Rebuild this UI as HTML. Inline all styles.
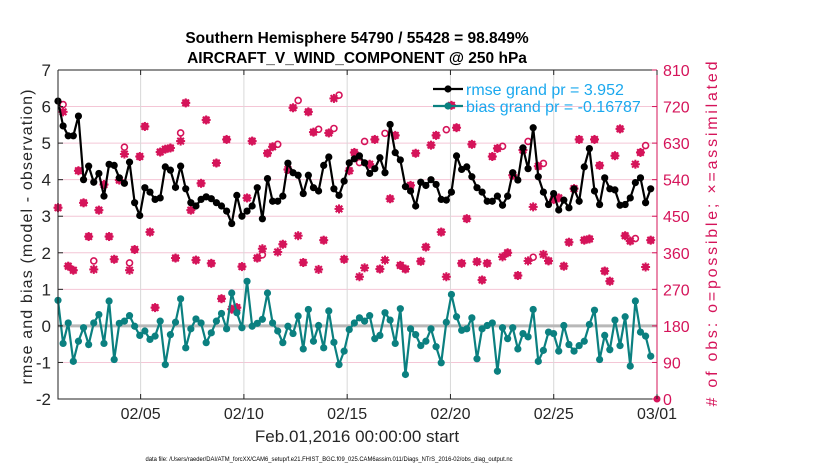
<!DOCTYPE html>
<html><head><meta charset="utf-8"><style>
body{margin:0;background:#fff;font-family:"Liberation Sans",sans-serif}
</style></head><body>
<svg id="chart" width="830" height="470" xmlns="http://www.w3.org/2000/svg" font-family="Liberation Sans, sans-serif"></svg>
<script>
const rmse=[6.15,5.47,5.2,5.2,5.74,4.0,4.37,3.93,4.17,3.55,4.42,4.39,4.05,3.9,4.48,3.37,3.02,3.78,3.66,3.46,3.5,4.35,4.26,3.79,4.37,3.75,3.37,3.28,3.46,3.53,3.48,3.37,3.28,3.14,2.8,3.57,3.0,3.14,3.28,
3.78,2.93,4.03,3.41,3.41,3.55,4.45,4.19,4.12,3.62,4.12,3.78,3.69,4.39,4.62,3.75,3.57,3.96,4.46,4.57,4.65,4.46,4.17,4.3,4.6,4.19,5.51,4.74,4.54,3.81,3.69,3.28,3.93,3.84,4.0,3.87,3.46,3.44,3.66,
4.65,4.28,4.35,4.08,3.78,3.66,3.41,3.41,3.55,3.3,3.55,4.19,3.99,4.87,4.3,5.42,4.08,3.66,3.32,3.62,3.17,3.44,3.23,3.75,3.41,4.35,4.85,3.69,3.32,4.05,3.75,3.72,3.3,3.32,3.5,3.92,4.05,3.37,3.75];
const bias=[0.7,-0.48,0.08,-0.97,-0.42,-0.05,-0.51,0.08,0.31,-0.48,0.68,-0.92,0.07,0.13,0.28,-0.01,-0.26,-0.14,-0.37,-0.28,0.13,-1.06,-0.24,0.1,0.74,-0.6,-0.08,0.19,0.08,-0.46,-0.19,0.13,0.34,-0.08,0.9,0.36,-0.05,1.22,-0.01,
0.07,0.18,0.9,0.08,-0.14,-0.46,-0.01,-0.21,0.27,-0.63,0.45,-0.42,0.01,-0.6,0.41,-0.45,-1.06,-0.69,-0.1,0.08,0.22,0.13,0.28,-0.35,-0.26,0.36,0.16,-0.48,0.47,-1.33,-0.08,-0.24,-0.54,-0.42,-0.08,-0.57,-1.01,0.1,0.86,
0.25,-0.12,-0.08,0.22,-0.9,-0.08,0.01,0.08,-1.24,-0.05,-0.35,-0.05,-0.63,-0.21,-0.3,0.45,-0.97,-0.67,-0.17,-0.21,-0.69,0.01,-0.51,-0.69,-0.54,-0.42,0.04,0.43,-0.92,-0.26,-0.65,0.16,-0.54,0.25,-1.1,0.68,-0.17,-0.28,-0.83];
const nUsed=[471,707,327,317,562,483,400,319,465,528,400,344,539,603,317,368,597,671,411,225,608,615,618,347,635,729,465,342,531,687,334,581,247,639,221,225,326,495,635,
347,370,605,621,362,381,565,717,402,336,707,657,319,391,655,740,468,344,562,607,301,323,578,639,320,342,493,649,329,320,526,605,339,374,625,649,411,301,723,
668,334,444,627,338,293,334,597,617,350,360,551,304,613,340,473,573,356,340,491,495,327,386,518,639,391,394,639,575,315,290,599,665,402,389,578,607,325,391];
const nPoss=nUsed.slice();
[[1,725],[7,340],[13,620],[14,335],[24,655],[40,355],[43,627],[47,735],[51,664],[54,666],[55,748],[59,582],[60,634],[64,654],[76,663],[87,622],[92,634],[93,349],[95,580],[113,395],[115,624]].forEach(p=>{nPoss[p[0]]=p[1];});
const dateTicks=["02/05","02/10","02/15","02/20","02/25","03/01"];
const dateTickDays=[4,9,14,19,24,29];
const leftTicks=[-2,-1,0,1,2,3,4,5,6,7];
const rightTicks=[0,90,180,270,360,450,540,630,720,810];

const L=58,R=657,T=70,B=399;
const xi=i=>L+i*(650.7-L)/116;
const xd=d=>L+d*(R-L)/29;
const yl=v=>B-(v+2)*(B-T)/9;
const yr=v=>B-v*(B-T)/810;
const svg=document.getElementById('chart');
const NS="http://www.w3.org/2000/svg";
function mk(tag,at,parent){const e=document.createElementNS(NS,tag);for(const k in at)e.setAttribute(k,at[k]);(parent||svg).appendChild(e);return e;}
function txt(s,at){const e=mk('text',at);e.textContent=s;return e;}
const MAG="#d5145a",TEAL="#0b8080";

leftTicks.forEach(v=>{if(v>-2&&v<7){const g=mk('line',{x1:L,x2:R,y1:yl(v),y2:yl(v),stroke:"#f4c6d6","stroke-width":1});

}});
dateTickDays.forEach(d=>{if(d<29){const g=mk('line',{x1:xd(d),x2:xd(d),y1:T,y2:B,stroke:"#d8d8d8","stroke-width":1});

}});
const zl=mk('line',{x1:L,x2:R,y1:yl(0),y2:yl(0),stroke:"#b8b8b8","stroke-width":3});



const obsG=mk('g',{});


nPoss.forEach((v,i)=>{const c=mk('circle',{cx:xi(i),cy:yr(v),r:3,fill:"none",stroke:MAG,"stroke-width":1.6},obsG);

});
nUsed.forEach((v,i)=>{const x=xi(i),y=yr(v);const g=mk('g',{stroke:MAG,"stroke-width":2},obsG);


mk('line',{x1:x-4.5,x2:x+4.5,y1:y,y2:y},g);mk('line',{x1:x,x2:x,y1:y-4.5,y2:y+4.5},g);
mk('line',{x1:x-3.3,x2:x+3.3,y1:y-3.3,y2:y+3.3},g);mk('line',{x1:x-3.3,x2:x+3.3,y1:y+3.3,y2:y-3.3},g);
mk('circle',{cx:x,cy:y,r:3.3,fill:MAG,stroke:"none"},g);});
const z0=mk('circle',{cx:xd(29),cy:yr(0),r:3.5,fill:MAG});



function series(arr,col,name){const g=mk('g',{});


mk('polyline',{points:arr.map((v,i)=>xi(i)+","+yl(v)).join(" "),fill:"none",stroke:col,"stroke-width":2.2},g);
arr.forEach((v,i)=>{const c=mk('circle',{cx:xi(i),cy:yl(v),r:3.6,fill:col},g);

});}
series(rmse,"#000","rmse-line");
series(bias,TEAL,"bias-line");

const ax=mk('g',{fill:"none"});


mk('path',{d:`M${L},${T}V${B}H${R}`,stroke:"#222","stroke-width":1},ax);
mk('line',{x1:L,x2:R,y1:T,y2:T,stroke:"#222","stroke-width":1},ax);
mk('line',{x1:R,x2:R,y1:T,y2:B,stroke:MAG,"stroke-width":1},ax);
leftTicks.forEach(v=>{mk('line',{x1:L,x2:L+5,y1:yl(v),y2:yl(v),stroke:"#222"},ax);
const t=txt(String(v),{x:L-7,y:yl(v)+6,"text-anchor":"end","font-size":17,fill:"#262626"});

});
rightTicks.forEach(v=>{mk('line',{x1:R-5,x2:R,y1:yr(v),y2:yr(v),stroke:MAG},ax);
const t=txt(String(v),{x:R+6,y:yr(v)+6,"font-size":16,fill:MAG});

});
dateTicks.forEach((s,k)=>{const x=xd(dateTickDays[k]);mk('line',{x1:x,x2:x,y1:B,y2:B-5,stroke:"#222"},ax);mk('line',{x1:x,x2:x,y1:T,y2:T+5,stroke:"#222"},ax);
const t=txt(s,{x:x,y:B+20,"text-anchor":"middle","font-size":16,fill:"#262626"});

});
</script>
<script>
(function(){const svg=document.getElementById('chart');const NS="http://www.w3.org/2000/svg";
function t(s,at,name){const e=document.createElementNS(NS,'text');for(const k in at)e.setAttribute(k,at[k]);e.textContent=s;svg.appendChild(e);

return e;}
function l(at,name){const e=document.createElementNS(NS,at.tag);delete at.tag;for(const k in at)e.setAttribute(k,at[k]);svg.appendChild(e);

}
t("Southern Hemisphere 54790 / 55428 = 98.849%",{x:357,y:43,"text-anchor":"middle","font-size":15.5,"font-weight":"bold",fill:"#000"},"title-line-1");
t("AIRCRAFT_V_WIND_COMPONENT @ 250 hPa",{x:357,y:63,"text-anchor":"middle","font-size":15.5,"font-weight":"bold",fill:"#000"},"title-line-2");
t("rmse and bias (model - observation)",{x:0,y:0,transform:"translate(32,237) rotate(-90)","text-anchor":"middle","font-size":16,textLength:295,lengthAdjust:"spacing",fill:"#262626"},"left-axis-title");
t("# of obs: o=possible; \u00d7=assimilated",{x:0,y:0,transform:"translate(717,234) rotate(-90)","text-anchor":"middle","font-size":16,textLength:345,lengthAdjust:"spacing",fill:"#d5145a"},"right-axis-title");
t("Feb.01,2016 00:00:00 start",{x:357,y:442,"text-anchor":"middle","font-size":17,fill:"#262626"},"x-axis-title");
t("data file: /Users/raeder/DAI/ATM_forcXX/CAM6_setup/f.e21.FHIST_BGC.f09_025.CAM6assim.011/Diags_NTrS_2016-02/obs_diag_output.nc",{x:329,y:461,"text-anchor":"middle","font-size":6.5,textLength:367,lengthAdjust:"spacingAndGlyphs",fill:"#000"},"data-file-note");
l({tag:'line',x1:433,x2:463,y1:89,y2:89,stroke:"#000","stroke-width":2.2},"legend-rmse-line");
l({tag:'circle',cx:448,cy:89,r:3.6,fill:"#000"},"legend-rmse-marker");
l({tag:'line',x1:433,x2:463,y1:106,y2:106,stroke:"#0b8080","stroke-width":2.2},"legend-bias-line");
l({tag:'circle',cx:448,cy:106,r:3.6,fill:"#0b8080"},"legend-bias-marker");
t("rmse grand pr = 3.952",{x:466,y:95,"font-size":16,fill:"#1aa8ee"},"legend-rmse-label");
t("bias grand pr = -0.16787",{x:466,y:112,"font-size":16,fill:"#1aa8ee"},"legend-bias-label");
})();
</script>
</body></html>
